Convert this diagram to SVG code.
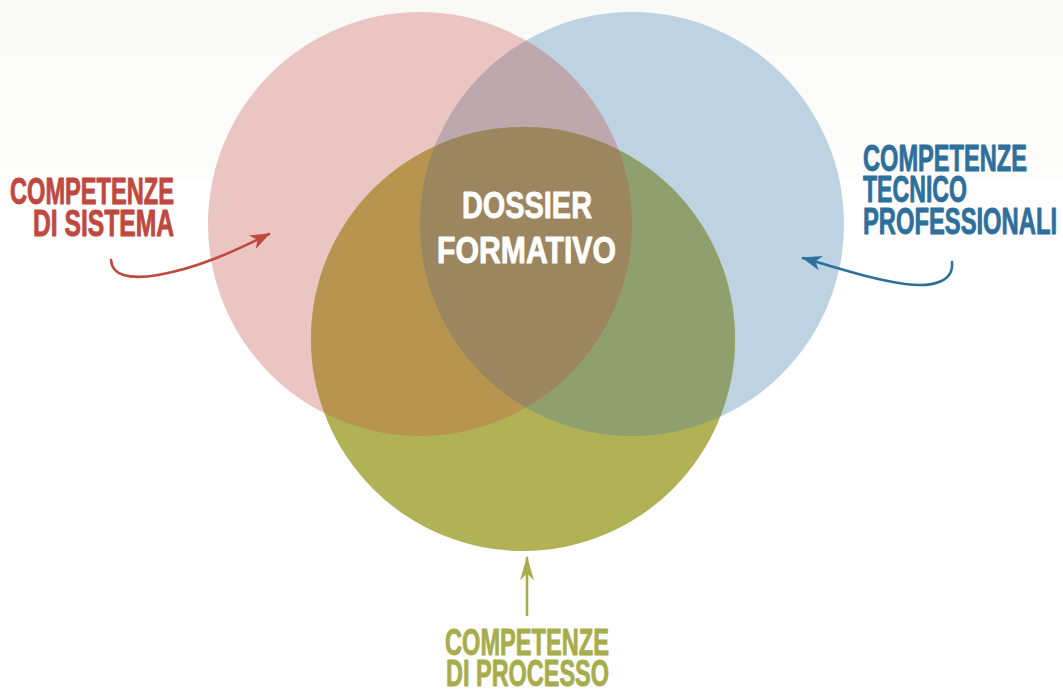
<svg xmlns="http://www.w3.org/2000/svg" width="1063" height="689" viewBox="0 0 1063 689">
  <style>
    .lbl { font-family: "Liberation Sans", Arial, sans-serif; font-weight: bold; font-size: 36px; stroke-width: 0.9; stroke-linejoin: round; }
    .red { fill: #c0483e; stroke: #c0483e; }
    .blue { fill: #2e6f9c; stroke: #2e6f9c; }
    .olive { fill: #a8ad4c; stroke: #a8ad4c; }
    .white { fill: #ffffff; stroke: #ffffff; }
    .conn { fill: none; stroke-width: 2.6; stroke-linecap: round; }
  </style>
  <defs>
    <linearGradient id="bgTop" x1="0" y1="0" x2="0" y2="1">
      <stop offset="0" stop-color="#f9f9f7"/>
      <stop offset="1" stop-color="#fdfdfc"/>
    </linearGradient>
    <clipPath id="clipRed"><circle cx="420" cy="224" r="212"/></clipPath>
    <clipPath id="clipBlue"><circle cx="632" cy="224" r="212"/></clipPath>
    <clipPath id="clipOlive"><circle cx="523" cy="339" r="212"/></clipPath>
    <marker id="arrRed" viewBox="0 0 14 12" refX="13" refY="6" markerWidth="20" markerHeight="15" markerUnits="userSpaceOnUse" orient="auto" preserveAspectRatio="none">
      <path d="M0,0 L14,6 L0,12 L4,6 Z" fill="#c0483e"/>
    </marker>
    <marker id="arrBlue" viewBox="0 0 14 12" refX="13" refY="6" markerWidth="20" markerHeight="15" markerUnits="userSpaceOnUse" orient="auto" preserveAspectRatio="none">
      <path d="M0,0 L14,6 L0,12 L4,6 Z" fill="#2e6f9c"/>
    </marker>
    <marker id="arrOlive" viewBox="0 0 14 12" refX="13" refY="6" markerWidth="24" markerHeight="14" markerUnits="userSpaceOnUse" orient="auto" preserveAspectRatio="none">
      <path d="M0,0 L14,6 L0,12 L4,6 Z" fill="#a8ad4c"/>
    </marker>
  </defs>

  <!-- page background -->
  <rect x="0" y="0" width="1063" height="689" fill="#ffffff"/>
  <rect x="0" y="0" width="1063" height="181" fill="url(#bgTop)"/>

  <!-- Venn circles -->
  <g id="circle-sistema">
    <circle cx="420" cy="224" r="212" fill="#eac5c1"/>
  </g>
  <g id="circle-tecnico">
    <circle cx="632" cy="224" r="212" fill="#bed3e1"/>
    <circle cx="632" cy="224" r="212" fill="#bfa7ae" clip-path="url(#clipRed)"/>
  </g>
  <g id="circle-processo">
    <circle cx="523" cy="339" r="212" fill="#b1b156"/>
    <circle cx="420" cy="224" r="212" fill="#b8954e" clip-path="url(#clipOlive)"/>
    <circle cx="632" cy="224" r="212" fill="#8f9f6e" clip-path="url(#clipOlive)"/>
    <g clip-path="url(#clipOlive)">
      <circle cx="632" cy="224" r="212" fill="#9c8660" clip-path="url(#clipRed)"/>
    </g>
  </g>

  <!-- centre label -->
  <g id="dossier">
    <text class="lbl white" x="462" y="218" textLength="130" lengthAdjust="spacingAndGlyphs">DOSSIER</text>
    <text class="lbl white" x="437" y="263" textLength="179" lengthAdjust="spacingAndGlyphs">FORMATIVO</text>
  </g>

  <!-- outer labels -->
  <g id="label-sistema">
    <text class="lbl red" x="10" y="204" textLength="164" lengthAdjust="spacingAndGlyphs">COMPETENZE</text>
    <text class="lbl red" x="33" y="236" textLength="141" lengthAdjust="spacingAndGlyphs">DI SISTEMA</text>
  </g>
  <g id="label-tecnico">
    <text class="lbl blue" x="863" y="171" textLength="164" lengthAdjust="spacingAndGlyphs">COMPETENZE</text>
    <text class="lbl blue" x="863" y="202" textLength="104" lengthAdjust="spacingAndGlyphs">TECNICO</text>
    <text class="lbl blue" x="863" y="234" textLength="194" lengthAdjust="spacingAndGlyphs">PROFESSIONALI</text>
  </g>
  <g id="label-processo">
    <text class="lbl olive" x="445" y="655" textLength="164" lengthAdjust="spacingAndGlyphs">COMPETENZE</text>
    <text class="lbl olive" x="446" y="686" textLength="163" lengthAdjust="spacingAndGlyphs">DI PROCESSO</text>
  </g>

  <!-- connectors -->
  <g id="connectors">
    <path class="conn" stroke="#c0483e" marker-end="url(#arrRed)" d="M111,260 C112,275 128,280 158,275 C198,268 235,251 269,234"/>
    <path class="conn" stroke="#2e6f9c" marker-end="url(#arrBlue)" d="M952,262 C954,280 936,288 905,284 C870,279 838,268 803,258"/>
    <path class="conn" stroke="#a8ad4c" marker-end="url(#arrOlive)" d="M527,615 L527,558"/>
  </g>
</svg>
